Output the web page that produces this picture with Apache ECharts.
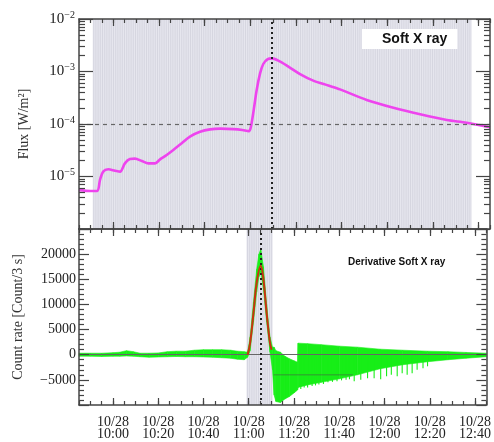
<!DOCTYPE html>
<html>
<head>
<meta charset="utf-8">
<title>Soft X ray</title>
<script src="https://fastly.jsdelivr.net/npm/echarts@6/dist/echarts.min.js"></script>
<style>
  html, body { margin: 0; padding: 0; background: #fff; }
  #main { width: 494px; height: 442px; }
</style>
</head>
<body>
<div id="main"></div>
<script>
// time in minutes after midnight (10/28)
var tStart = 585, tEnd = 765;
var majorTimes = [600, 620, 640, 660, 680, 700, 720, 740, 760];
var minorTimes = [];
for (var m = tStart; m <= tEnd; m += 5) minorTimes.push(m);

// soft X ray flux [W/m2]
var fluxTime = [585, 590, 593, 594.2, 595.6, 597.8, 600.8, 603, 605.1, 607.3, 609.5, 612.5, 615.4, 618.3,
  620.5, 623.4, 626.3, 630, 633.6, 638, 642.4, 646.8, 652.6, 656.5, 659.4, 660.2, 661.3, 662.8, 664.3,
  665.7, 667.5, 669.4, 672.3, 676.7, 681.8, 687.6, 694.2, 699.3, 711, 722.7, 734.4, 746.1, 754.8, 765];
var fluxVal = [5.5e-6, 5.3e-6, 5.3e-6, 8.6e-6, 1.24e-5, 1.37e-5, 1.29e-5, 1.24e-5, 1.78e-5, 2.15e-5, 2.19e-5, 1.97e-5, 1.78e-5, 1.78e-5,
  2.12e-5, 2.57e-5, 3.2e-5, 4.3e-5, 5.75e-5, 7.1e-5, 7.9e-5, 8.15e-5, 8.0e-5, 7.7e-5, 7.3e-5, 8.5e-5, 1.6e-4, 4.4e-4, 9.2e-4,
  1.39e-3, 1.7e-3, 1.78e-3, 1.61e-3, 1.24e-3, 8.95e-4, 6.7e-4, 5.4e-4, 4.57e-4, 2.87e-4, 2.04e-4, 1.53e-4, 1.19e-4, 1.06e-4, 8.65e-5];
var fluxRef = 1e-4;

// derivative: envelope of the noisy band [count/3 s]
var greenTime = [585, 590, 595, 600, 603, 606, 609, 612, 616, 620, 624, 628, 632, 636, 640, 644, 648, 652, 655, 658, 659.5,
  660.6, 662.1, 663.5, 664.5, 665.3, 666.5, 667.9, 669.4, 670.5, 671.2, 672, 674, 676, 678, 680, 681.6,
  681.8, 686, 692, 700, 708, 718, 728, 739, 748, 756, 765];
var greenLow = [-300, -300, -350, -300, -300, -250, -300, -400, -500, -450, -400, -350, -400, -400, -450, -500, -600, -700, -900, -1000, -500,
  800, 6500, 12500, 15500, 16500, 13000, 6500, 500, -3000, -8000, -9300, -9500, -8800, -8300, -7600, -7000,
  -6500, -6000, -5500, -4800, -4000, -2800, -2000, -1400, -1000, -700, -400];
var greenHigh = [300, 300, 300, 400, 500, 800, 600, 300, 300, 350, 600, 700, 700, 900, 1000, 1000, 1000, 900, 700, 600, 500,
  3500, 10500, 17000, 20000, 21000, 17500, 10000, 3500, 1500, 1500, 800, 500, -300, -800, -1200, -1500,
  2300, 2200, 2000, 1700, 1500, 1100, 900, 700, 600, 450, 300];
var spikeTime = [683, 684.5, 686, 688, 689.5, 691, 693, 695, 697, 699, 701, 703, 704.5, 706.6, 709.5, 712.5, 715.4, 718.3, 720.9, 723,
  725.6, 727.8, 730, 732.2, 734.4, 737, 739];
var spikeLow = [-6800, -6500, -6500, -6200, -6100, -5900, -5800, -5500, -5400, -5300, -5100, -5000, -4900, -5300, -5000, -4700, -4700, -4900, -4300, -4000,
  -4300, -3700, -4000, -3700, -3000, -2700, -2300];

// fitted peak and mean level
var fitTime = [659.5, 660.6, 662.1, 663.5, 665.3, 666.5, 667.9, 669.4, 670.1];
var fitVal = [0, 2300, 8300, 14300, 17700, 15000, 8300, 2300, 1000];
var meanTime = [671, 706];
var meanVal = [-4000, -4000];

var countTicks = [-10000, 25000];
var fluxPeak = 669.5, derivPeak = 665.2;
var shadeTop = [591, 757], shadeBottom = [659, 670.5];

var serif = 'Liberation Serif';
var frame = '#444';
var green = '#17ee17';
var shade = '#e6e6ee';

function pad(n) { return (n < 10 ? '0' : '') + n; }
function timeLabel(v) {
  return '10/28\n' + pad(Math.floor(v / 60)) + ':' + pad(Math.round(v % 60));
}

function xAx(grid, pos, vals, len, line, labels) {
  return {
    type: 'value', gridIndex: grid, position: pos, min: tStart, max: tEnd, z: 10,
    axisLine: { show: line, onZero: false, lineStyle: { color: frame, width: 1.5 } },
    axisTick: { show: true, inside: true, length: len, customValues: vals, lineStyle: { color: frame, width: 1.2 } },
    axisLabel: labels ? {
      show: true, customValues: majorTimes, formatter: timeLabel, margin: 11,
      fontFamily: serif, fontSize: 14, lineHeight: 12.5, color: '#222'
    } : { show: false },
    splitLine: { show: false }
  };
}

var logMinor = [], logMajor = [];
for (var e = -6; e <= -2; e++) {
  logMajor.push(e);
  if (e < -2) for (var k = 2; k <= 9; k++) logMinor.push(e + Math.log10(k));
}

function yTickAx(pos, vals, len, line) {
  return {
    type: 'value', gridIndex: 0, position: pos, min: -6, max: -2, z: 10,
    axisLine: { show: line, onZero: false, lineStyle: { color: frame, width: 1.5 } },
    axisTick: { show: true, inside: true, length: len, customValues: vals, lineStyle: { color: frame, width: 1.2 } },
    axisLabel: { show: false }, splitLine: { show: false }
  };
}

function countAx(pos, labels) {
  return {
    type: 'value', gridIndex: 1, position: pos, min: countTicks[0], max: countTicks[1], interval: 5000, z: 10,
    axisLine: { show: true, onZero: false, lineStyle: { color: frame, width: 1.5 } },
    axisTick: { show: true, inside: true, length: 10, lineStyle: { color: frame, width: 1.2 } },
    minorTick: { show: true, splitNumber: 5, length: 5, lineStyle: { color: frame, width: 1.2 } },
    axisLabel: labels ? {
      show: true, margin: 3, fontFamily: serif, fontSize: 14, color: '#222',
      formatter: function (v) {
        if (v <= countTicks[0] || v >= countTicks[1]) return '';
        return v < 0 ? '\u2212' + (-v) : String(v);
      }
    } : { show: false },
    splitLine: { show: false },
    name: labels ? 'Count rate [Count/3 s]' : '', nameLocation: 'middle', nameGap: 54,
    nameTextStyle: { fontFamily: serif, fontSize: 14, color: '#333' }
  };
}

// shaded time window with fine vertical hatching, laid out through the axis scale
function shadeItem(params, api) {
  var a = api.coord([api.value(0), api.value(2)]);
  var b = api.coord([api.value(1), api.value(3)]);
  var x0 = Math.min(a[0], b[0]), x1 = Math.max(a[0], b[0]);
  var y0 = Math.min(a[1], b[1]), y1 = Math.max(a[1], b[1]);
  var kids = [{ type: 'rect', shape: { x: x0, y: y0, width: x1 - x0, height: y1 - y0 }, style: { fill: shade } }];
  for (var x = x0 + 1; x < x1; x += 2.2) {
    kids.push({ type: 'line', shape: { x1: x, y1: y0, x2: x, y2: y1 }, style: { stroke: 'rgba(185,185,200,0.45)', lineWidth: 0.8 } });
  }
  return { type: 'group', children: kids };
}

var chart = echarts.init(document.getElementById('main'));
chart.setOption({
  animation: false,
  backgroundColor: '#fff',
  title: [
    {
      text: 'Soft X ray', left: 362, top: 29, backgroundColor: '#fff', padding: [3, 10, 3, 20],
      textStyle: { fontFamily: 'Liberation Sans', fontWeight: 'bold', fontSize: 14, color: '#111' }
    },
    {
      text: 'Derivative Soft X ray', left: 348, top: 257, padding: 0,
      textStyle: { fontFamily: 'Liberation Sans', fontWeight: 'bold', fontSize: 10, color: '#111' }
    }
  ],
  grid: [
    { left: 79, right: 4, top: 19, height: 210 },
    { left: 79, right: 4, top: 229, height: 176 }
  ],
  xAxis: [
    xAx(0, 'bottom', majorTimes, 7, true, false),
    xAx(0, 'bottom', minorTimes, 4, false, false),
    xAx(0, 'top', majorTimes, 7, true, false),
    xAx(0, 'top', minorTimes, 4, false, false),
    xAx(1, 'bottom', majorTimes, 7, true, true),
    xAx(1, 'bottom', minorTimes, 4, false, false),
    xAx(1, 'top', majorTimes, 7, true, false),
    xAx(1, 'top', minorTimes, 4, false, false)
  ],
  yAxis: [
    {
      type: 'log', logBase: 10, gridIndex: 0, position: 'left', min: 1e-6, max: 1e-2, z: 10,
      axisLine: { show: true, onZero: false, lineStyle: { color: frame, width: 1.5 } },
      axisTick: { show: true, inside: true, length: 14, lineStyle: { color: frame, width: 1.2 } },
      axisLabel: {
        margin: 4, color: '#222',
        formatter: function (v) {
          var ex = Math.round(Math.log10(v));
          if (ex <= -6) return '';
          return '{b|10}{s|\u2212' + (-ex) + '}';
        },
        rich: {
          b: { fontFamily: serif, fontSize: 15, lineHeight: 18, color: '#222' },
          s: { fontFamily: serif, fontSize: 10, lineHeight: 10, verticalAlign: 'top', color: '#222' }
        }
      },
      splitLine: { show: false },
      name: 'Flux [W/m\u00b2]', nameLocation: 'middle', nameGap: 48,
      nameTextStyle: { fontFamily: serif, fontSize: 14, color: '#333' }
    },
    yTickAx('left', logMinor, 6, false),
    yTickAx('right', logMajor, 14, true),
    yTickAx('right', logMinor, 6, false),
    countAx('left', true),
    countAx('right', false)
  ],
  series: [
    {
      type: 'custom', xAxisIndex: 0, yAxisIndex: 1, z: 1, silent: true,
      data: [[shadeTop[0], shadeTop[1], -6, -2]],
      renderItem: shadeItem
    },
    {
      type: 'custom', xAxisIndex: 4, yAxisIndex: 4, z: 1, silent: true,
      data: [[shadeBottom[0], shadeBottom[1], countTicks[0], countTicks[1]]],
      renderItem: shadeItem
    },
    {
      type: 'line', xAxisIndex: 0, yAxisIndex: 0, z: 3,
      data: fluxTime.map(function (t, i) { return [t, fluxVal[i]]; }),
      smooth: 0.3, showSymbol: false, silent: true,
      lineStyle: { color: '#ee44ee', width: 2.6 },
      markLine: {
        silent: true, symbol: 'none', label: { show: false },
        data: [
          [{ coord: [tStart, fluxRef], lineStyle: { color: '#666', type: [4, 4], width: 1.2 } }, { coord: [tEnd, fluxRef] }],
          { xAxis: fluxPeak, lineStyle: { color: '#222', type: [2, 3], width: 2 } }
        ]
      }
    },
    {
      type: 'custom', xAxisIndex: 4, yAxisIndex: 4, z: 3, silent: true,
      data: greenTime.map(function (t, i) { return [t, greenLow[i], greenHigh[i]]; }),
      renderItem: function (params, api) {
        var i = params.dataIndex;
        if (i >= greenTime.length - 1) return null;
        var a = api.coord([greenTime[i], greenHigh[i]]);
        var b = api.coord([greenTime[i + 1], greenHigh[i + 1]]);
        var c = api.coord([greenTime[i + 1], greenLow[i + 1]]);
        var d = api.coord([greenTime[i], greenLow[i]]);
        return { type: 'polygon', shape: { points: [a, b, c, d] }, style: { fill: green, stroke: green, lineWidth: 0.6 } };
      },
      markLine: {
        silent: true, symbol: 'none', label: { show: false },
        data: [
          { yAxis: 0, lineStyle: { color: '#666', type: 'solid', width: 1 } },
          { xAxis: derivPeak, lineStyle: { color: '#222', type: [2, 3], width: 2 } }
        ]
      }
    },
    {
      type: 'custom', xAxisIndex: 4, yAxisIndex: 4, z: 3, silent: true,
      data: spikeTime.map(function (t, i) { return [t, spikeLow[i]]; }),
      renderItem: function (params, api) {
        var p0 = api.coord([api.value(0), 0]);
        var p1 = api.coord([api.value(0), api.value(1)]);
        return { type: 'line', shape: { x1: p0[0], y1: p0[1], x2: p1[0], y2: p1[1] }, style: { stroke: green, lineWidth: 1.1 } };
      }
    },
    {
      type: 'line', xAxisIndex: 4, yAxisIndex: 4, z: 4, silent: true,
      data: meanTime.map(function (t, i) { return [t, meanVal[i]]; }),
      showSymbol: false, lineStyle: { color: 'rgba(70,90,70,0.6)', width: 1 }
    },
    {
      type: 'line', xAxisIndex: 4, yAxisIndex: 4, z: 5, silent: true,
      data: fitTime.map(function (t, i) { return [t, fitVal[i]]; }),
      smooth: 0.4, showSymbol: false, lineStyle: { color: '#c8320f', width: 2 }
    }
  ]
});
</script>
</body>
</html>
